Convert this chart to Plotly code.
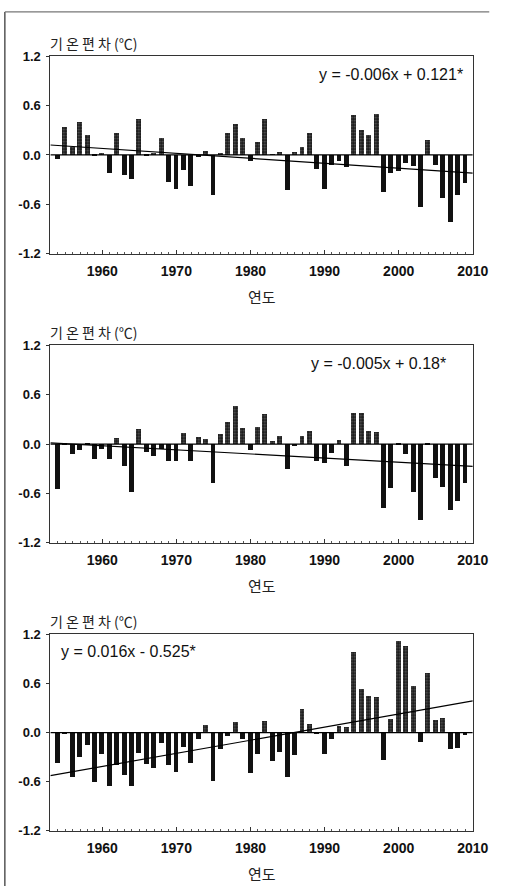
import plotly.graph_objects as go

years = list(range(1954, 2010))

anom_1 = [-0.055, 0.34, 0.10, 0.40, 0.245, -0.02, 0.02, -0.22, 0.27, -0.24,
          -0.29, 0.44, -0.02, 0.02, 0.20, -0.33, -0.41, -0.18, -0.38, -0.03,
          0.05, -0.49, 0.02, 0.27, 0.375, 0.20, -0.07, 0.15, 0.43, 0.005,
          0.03, -0.43, 0.04, 0.10, 0.27, -0.17, -0.41, -0.12, -0.07, -0.15,
          0.48, 0.30, 0.24, 0.49, -0.45, -0.22, -0.20, -0.10, -0.14, -0.63,
          0.18, -0.12, -0.53, -0.81, -0.49, -0.34]

anom_2 = [-0.55, -0.01, -0.12, -0.07, -0.01, -0.19, -0.06, -0.19, 0.07, -0.27,
          -0.58, 0.18, -0.10, -0.15, -0.06, -0.21, -0.21, 0.13, -0.21, 0.08,
          0.06, -0.48, 0.12, 0.26, 0.46, 0.19, -0.07, 0.20, 0.36, 0.03,
          0.10, -0.31, -0.03, 0.09, 0.16, -0.21, -0.23, -0.11, 0.05, -0.27,
          0.37, 0.38, 0.16, 0.14, -0.78, -0.54, -0.01, -0.12, -0.58, -0.93,
          -0.01, -0.42, -0.52, -0.80, -0.70, -0.47]

anom_3 = [-0.38, -0.02, -0.54, -0.30, -0.16, -0.61, -0.27, -0.66, -0.40, -0.52,
          -0.66, -0.25, -0.39, -0.44, -0.13, -0.40, -0.48, -0.18, -0.37, -0.08,
          0.09, -0.60, -0.20, -0.04, 0.13, -0.08, -0.50, -0.26, 0.14, -0.35,
          -0.24, -0.55, -0.28, 0.28, 0.10, -0.02, -0.26, -0.08, 0.08, 0.07,
          0.98, 0.53, 0.44, 0.43, -0.34, 0.16, 1.11, 1.05, 0.57, -0.12,
          0.72, 0.15, 0.17, -0.20, -0.19, -0.03]

# trend lines as drawn (slope per year index, value at x-axis start)
trend_slope = [-0.006, -0.005, 0.016]
trend_start = [0.121, 0.015, -0.525]
equations = ["y = -0.006x + 0.121*", "y = -0.005x + 0.18*", "y = 0.016x - 0.525*"]

x_start, x_end = 1953, 2010
y_ticks = [1.2, 0.6, 0.0, -0.6, -1.2]
y_ticklabels = ["1.2", "0.6", "0.0", "-0.6", "-1.2"]
x_ticks = [1960, 1970, 1980, 1990, 2000, 2010]

W, H = 513, 894
panels_px = [(50, 251), (344, 545), (638, 838)]  # (top, bottom) pixel positions
left_px, right_px = 52, 488
eq_pos = [("right", right_px - 8, 19), ("right", right_px - 26, 19), ("left", left_px + 9, 18)]

fig = go.Figure()
series = [anom_1, anom_2, anom_3]
KFONT = "Noto Sans CJK KR"
NFONT = "Liberation Sans"

for i, vals in enumerate(series):
    n = i + 1
    xa = "x" if n == 1 else f"x{n}"
    ya = "y" if n == 1 else f"y{n}"
    pos_x = [y for y, v in zip(years, vals) if v >= 0]
    pos_v = [v for v in vals if v >= 0]
    neg_x = [y for y, v in zip(years, vals) if v < 0]
    neg_v = [v for v in vals if v < 0]
    fig.add_trace(go.Bar(x=neg_x, y=neg_v, width=0.66, xaxis=xa, yaxis=ya,
                         marker=dict(color="#111111", line=dict(width=0)),
                         showlegend=False))
    fig.add_trace(go.Bar(x=pos_x, y=pos_v, width=0.66, xaxis=xa, yaxis=ya,
                         marker=dict(color="#1a1a1a", line=dict(width=0),
                                     pattern=dict(shape=".", fgcolor="#a8a8a8",
                                                  bgcolor="#1a1a1a", size=3,
                                                  solidity=0.3)),
                         showlegend=False))
    # zero line
    fig.add_trace(go.Scatter(x=[x_start, x_end], y=[0, 0], mode="lines",
                             line=dict(color="#000000", width=1.3),
                             xaxis=xa, yaxis=ya, showlegend=False, hoverinfo="skip"))
    # trend line
    tx = [x_start, x_end]
    ty = [trend_start[i] + trend_slope[i] * (t - x_start) for t in tx]
    fig.add_trace(go.Scatter(x=tx, y=ty, mode="lines",
                             line=dict(color="#000000", width=1.2),
                             xaxis=xa, yaxis=ya, showlegend=False, hoverinfo="skip"))

    top, bot = panels_px[i]
    xdom = [left_px / W, right_px / W]
    ydom = [1 - bot / H, 1 - top / H]
    fig.update_layout({
        f"xaxis{'' if n == 1 else n}": dict(
            domain=xdom, range=[x_start, x_end], anchor=ya,
            tickmode="array", tickvals=x_ticks, ticktext=[str(t) for t in x_ticks],
            ticks="inside", ticklen=4, tickcolor="#333", tickwidth=1,
            minor=dict(ticks="inside", ticklen=2, dtick=1, tickcolor="#555", showgrid=False),
            showline=True, linecolor="#333", linewidth=1, mirror=True,
            showgrid=False, zeroline=False,
            tickfont=dict(family=NFONT, size=14, color="#111", weight="bold"),
            ticklabelstandoff=4,
        ),
        f"yaxis{'' if n == 1 else n}": dict(
            domain=ydom, range=[-1.2, 1.2], anchor=xa,
            tickmode="array", tickvals=y_ticks, ticktext=y_ticklabels,
            ticks="outside", ticklen=3, tickcolor="#333",
            showline=True, linecolor="#333", linewidth=1, mirror=True,
            showgrid=False, zeroline=False,
            tickfont=dict(family=NFONT, size=13, color="#111", weight="bold"),
            ticklabelstandoff=3,
        ),
    })
    # y title above plot
    fig.add_annotation(x=(left_px - 2) / W, y=1 - (top - 1) / H, xref="paper", yref="paper",
                       text="기 온 편 차 (℃)", showarrow=False, xanchor="left", yanchor="bottom",
                       font=dict(family=KFONT, size=14, color="#222"))
    # x title
    fig.add_annotation(x=(left_px + right_px) / 2 / W, y=1 - (bot + 43) / H,
                       xref="paper", yref="paper", text="연도", showarrow=False,
                       xanchor="center", yanchor="middle",
                       font=dict(family=KFONT, size=15, color="#222"))
    # equation
    anchor, ex, ey = eq_pos[i]
    fig.add_annotation(x=ex / W, y=1 - (top + ey) / H, xref="paper", yref="paper",
                       text=equations[i], showarrow=False, xanchor=anchor, yanchor="middle",
                       font=dict(family=NFONT, size=16, color="#111"))

# scan frame (left and top edges)
fig.add_shape(type="line", xref="paper", yref="paper", x0=5 / W, x1=5 / W, y0=0, y1=1 - 5 / H,
              line=dict(color="#555", width=1.5))
fig.add_shape(type="line", xref="paper", yref="paper", x0=5 / W, x1=505 / W, y0=1 - 5 / H, y1=1 - 5 / H,
              line=dict(color="#777", width=1.2))

fig.update_layout(width=W, height=H, autosize=False, margin=dict(l=0, r=0, t=0, b=0),
                  plot_bgcolor="white", paper_bgcolor="white", barmode="overlay",
                  bargap=0)

fig.write_html("out.html", config={"displayModeBar": False},
               post_script="document.body.style.margin='0';document.body.style.overflow='hidden';")
